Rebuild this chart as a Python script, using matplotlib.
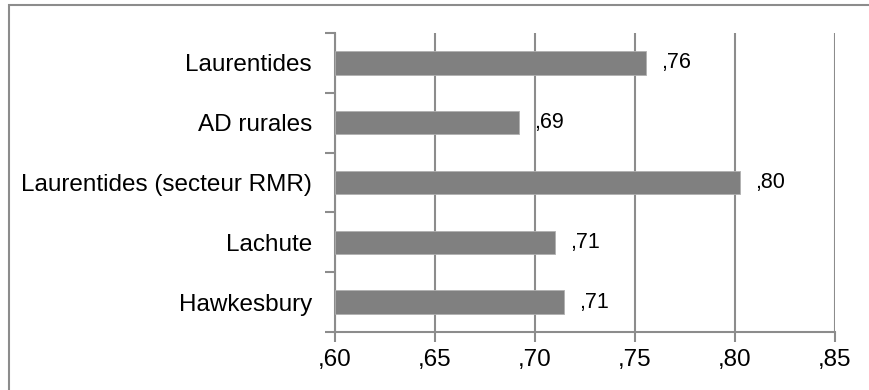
import matplotlib.pyplot as plt
from matplotlib.patches import Rectangle

# données du graphique (de haut en bas)
regions = ["Laurentides", "AD rurales", "Laurentides (secteur RMR)", "Lachute", "Hawkesbury"]
valeurs = [0.7555, 0.692, 0.8025, 0.710, 0.7145]
ticks_x = [0.60, 0.65, 0.70, 0.75, 0.80, 0.85]

plt.rcParams["font.family"] = ["Liberation Sans", "DejaVu Sans"]

fig = plt.figure(figsize=(8.69, 3.9), dpi=100)
ax = fig.add_axes([335 / 869, 58 / 390, 500 / 869, 299 / 390])

pos = list(range(len(regions)))
barres = ax.barh(pos, [v - 0.60 for v in valeurs], left=0.60, height=0.39,
                 color="#808080", edgecolor="#b0b0b0", linewidth=0.6, zorder=3)

def fmt(v):
    return ("%.2f" % v).lstrip("0").replace(".", ",")

ax.bar_label(barres, labels=[fmt(v) for v in valeurs], padding=10.5,
             fontsize=15.5, color="black")

ax.set_xlim(0.60, 0.85)
ax.set_ylim(len(regions) - 0.5, -0.5)
ax.set_xticks(ticks_x)
ax.set_xticklabels([fmt(t) for t in ticks_x], fontsize=17.5)
ax.set_yticks(pos)
ax.set_yticklabels(regions, fontsize=17.5)
ax.set_yticks([p - 0.5 for p in pos] + [len(regions) - 0.5], minor=True)

ax.grid(axis="x", color="#8c8c8c", linewidth=1.5, zorder=0)
ax.tick_params(axis="y", which="major", length=0, pad=16.5)
ax.tick_params(axis="y", which="minor", length=7, width=1.5, color="#8c8c8c")
ax.tick_params(axis="x", length=7, width=1.5, color="#8c8c8c", pad=5)

for s in ["top", "right"]:
    ax.spines[s].set_visible(False)
for s in ["left", "bottom"]:
    ax.spines[s].set_color("#8c8c8c")
    ax.spines[s].set_linewidth(1.5)

# cadre du graphique
fig.patches.append(Rectangle((9 / 869, -0.1), 1.2, 385 / 390 + 0.1,
                             transform=fig.transFigure, fill=False,
                             edgecolor="#8c8c8c", linewidth=1.5))

fig.savefig("out.png", dpi=100)
